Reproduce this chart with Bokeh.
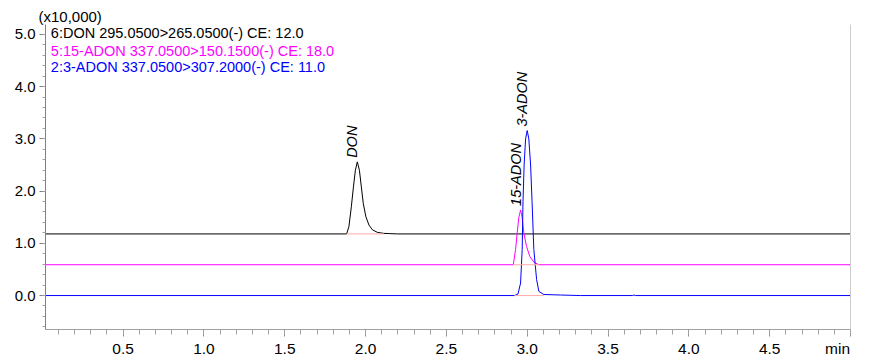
import numpy as np
from bokeh.plotting import figure
from bokeh.models import (SingleIntervalTicker, NumeralTickFormatter, LinearAxis,
                          Label, ColumnDataSource, FixedTicker, Title)
from bokeh.core.properties import value
from bokeh.embed import file_html
from bokeh.resources import INLINE

# ---------------- data (intensity in x10,000, time in min) ----------------
trace_names = ["DON", "15-ADON", "3-ADON"]
trace_titles = ["6:DON 295.0500>265.0500(-) CE: 12.0",
                "5:15-ADON 337.0500>150.1500(-) CE: 18.0",
                "2:3-ADON 337.0500>307.2000(-) CE: 11.0"]
trace_colors = ["#000000", "#ff00ff", "#0000ff"]
trace_offsets = [1.18, 0.59, 0.0]

don_t = [0.0, 1.883, 1.897, 1.912, 1.925, 1.937, 1.949, 1.962, 1.974, 1.986,
         2.002, 2.021, 2.042, 2.073, 2.114, 2.150, 2.198, 5.0]
don_i = [0.0, 0.0, 0.14, 0.52, 0.90, 1.22, 1.38, 1.22, 0.90, 0.58,
         0.33, 0.17, 0.08, 0.03, 0.01, 0.006, 0.0, 0.0]

adon15_t = [0.0, 2.914, 2.928, 2.938, 2.948, 2.959, 2.969, 2.979, 2.996,
            3.016, 3.041, 3.072, 5.0]
adon15_i = [0.0, 0.0, 0.29, 0.61, 0.90, 1.05, 0.90, 0.61, 0.35,
            0.16, 0.05, 0.0, 0.0]

adon3_t = [0.0, 2.922, 2.943, 2.959, 2.969, 2.974, 2.981, 2.990, 3.000, 3.010,
           3.021, 3.030, 3.041, 3.058, 3.072, 3.103, 3.206, 3.330, 3.650, 3.660,
           3.670, 5.0]
adon3_i = [0.0, 0.0, 0.03, 0.24, 0.88, 1.80, 2.50, 3.00, 3.16, 3.00,
           2.50, 1.80, 0.88, 0.31, 0.08, 0.02, 0.01, 0.0, 0.0, 0.01,
           0.0, 0.0]

# integration start / end of each peak
peak_start = [1.883, 2.914, 2.922]
peak_end = [2.114, 3.072, 3.103]

x_tick_step = 0.5
y_tick_step = 1.0
y_scale_note = "(x10,000)"
x_unit = "min"

traces_t = [don_t, adon15_t, adon3_t]
traces_i = [don_i, adon15_i, adon3_i]

# ---------------- figure ----------------
FONT = "Liberation Sans"
p = figure(width=880, height=360, x_range=(0.02, 5.0), y_range=(-0.65, 5.19),
           output_backend="svg", toolbar_location=None,
           min_border_left=45, min_border_right=30, min_border_top=24,
           min_border_bottom=31)
p.grid.visible = False
p.outline_line_color = None
p.background_fill_color = "white"
p.border_fill_color = "white"

p.title = Title(text=y_scale_note, align="left", offset=-7, standoff=0,
                text_font=FONT, text_font_size="15px",
                text_font_style="normal", text_color="#000000")
p.title_location = "above"

# traces
for t, i, off, col in zip(traces_t, traces_i, trace_offsets, trace_colors):
    p.line(np.array(t), np.array(i) + off, line_color=col, line_width=1)

# integration baselines (pink)
p.segment(x0=peak_start, y0=trace_offsets, x1=peak_end, y1=trace_offsets,
          line_color="#ffaaaa", line_width=1)

# peak labels
apex_t = [t[int(np.argmax(i))] for t, i in zip(traces_t, traces_i)]
apex_v = [max(i) + off for i, off in zip(traces_i, trace_offsets)]
src = ColumnDataSource(dict(x=apex_t, y=apex_v, text=trace_names))
p.text(x="x", y="y", text="text", source=src, angle=np.pi / 2,
       text_align="left", text_baseline="middle", x_offset=-5, y_offset=-4,
       text_font=value(FONT), text_font_size=value("14.5px"),
       text_font_style="italic", text_color="#000000")

# axes
xa = p.xaxis[0]
xa.ticker = SingleIntervalTicker(interval=x_tick_step, num_minor_ticks=5)
xa.formatter = NumeralTickFormatter(format="0.0")
xa.major_label_overrides = {5: x_unit + "\u00a0" * 6}
xa.axis_line_color = "#a0a0a0"
xa.major_tick_line_color = "#909090"
xa.minor_tick_line_color = "#a0a0a0"
xa.major_tick_in = 0
xa.minor_tick_in = 0
xa.major_tick_out = 7
xa.minor_tick_out = 5
xa.major_label_standoff = 3
xa.major_label_text_font = FONT
xa.major_label_text_font_size = "15.5px"
xa.major_label_text_color = "#000000"

ya = p.yaxis[0]
ya.ticker = SingleIntervalTicker(interval=y_tick_step, num_minor_ticks=5)
ya.formatter = NumeralTickFormatter(format="0.0")
ya.axis_line_color = "#808080"
ya.major_tick_line_color = "#808080"
ya.minor_tick_line_color = "#a0a0a0"
ya.major_tick_in = 0
ya.minor_tick_in = 0
ya.major_tick_out = 6
ya.minor_tick_out = 3
ya.major_label_standoff = 4
ya.major_label_text_font = FONT
ya.major_label_text_font_size = "15px"
ya.major_label_text_color = "#000000"

right = LinearAxis(axis_line_color="#cccccc", ticker=FixedTicker(ticks=[]),
                   major_tick_line_color=None, minor_tick_line_color=None,
                   major_label_standoff=0)
p.add_layout(right, "right")

# legend-like titles
ys = [5.02, 4.69, 4.37]
for txt, col, yy in zip(trace_titles, trace_colors, ys):
    p.add_layout(Label(x=0.053, y=yy, text=txt, text_color=col,
                       text_font=FONT, text_font_size="14.5px",
                       text_baseline="middle", text_align="left"))

open("out.html", "w").write(file_html(p, INLINE))
